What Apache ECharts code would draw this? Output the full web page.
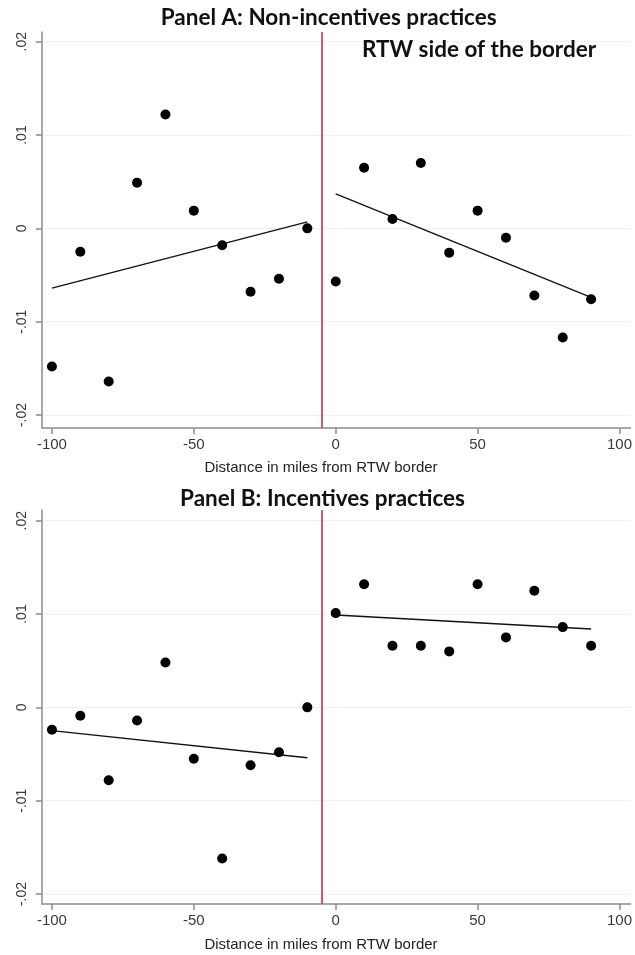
<!DOCTYPE html>
<html><head><meta charset="utf-8">
<script src="https://cdn.jsdelivr.net/npm/echarts@6/dist/echarts.min.js"></script>
<style>html,body{margin:0;padding:0;background:#fff}#c{width:635px;height:955px}</style>
</head><body><div id="c"></div>
<script>
// ---- data ----
const binsLeft = [-100, -90, -80, -70, -60, -50, -40, -30, -20, -10];
const binsRight = [0, 10, 20, 30, 40, 50, 60, 70, 80, 90];
const panelALeft = [-0.0148, -0.0025, -0.0164, 0.0049, 0.0122, 0.0019, -0.0018, -0.0068, -0.0054, 0.0000];
const panelARight = [-0.0057, 0.0065, 0.0010, 0.0070, -0.0026, 0.0019, -0.0010, -0.0072, -0.0117, -0.0076];
const panelBLeft = [-0.0024, -0.0009, -0.0078, -0.0014, 0.0048, -0.0055, -0.0162, -0.0062, -0.0048, 0.0000];
const panelBRight = [0.0101, 0.0132, 0.0066, 0.0066, 0.0060, 0.0132, 0.0075, 0.0125, 0.0086, 0.0066];
const fitXLeft = [-100, -10];
const fitXRight = [0, 90];
const fitALeft = [-0.0064, 0.0007];
const fitARight = [0.0037, -0.0074];
const fitBLeft = [-0.0025, -0.0054];
const fitBRight = [0.0099, 0.0084];
const borderX = -5;
const xTicks = [-100, -50, 0, 50, 100];
const yTicks = [-0.02, -0.01, 0, 0.01, 0.02];
const yTickLabels = ['-.02', '-.01', '0', '.01', '.02'];
const titleA = 'Panel A: Non-incentives practices';
const titleB = 'Panel B: Incentives practices';
const sideNote = 'RTW side of the border';
const xName = 'Distance in miles from RTW border';

const pair = (xs, ys) => xs.map((x, i) => [x, ys[i]]);

const axisLineStyle = { color: '#8c8c8c', width: 1.5 };
function xAxis(gi) {
  return {
    type: 'value', gridIndex: gi, min: -103.5, max: 103.9,
    axisLine: { show: true, onZero: false, lineStyle: axisLineStyle },
    axisTick: { show: true, length: 6, lineStyle: axisLineStyle, customValues: xTicks },
    axisLabel: { customValues: xTicks, fontFamily: 'Liberation Sans', fontSize: 15, color: '#3a3a3a', margin: 9 },
    splitLine: { show: false }
  };
}
function yAxis(gi, mn, mx) {
  return {
    type: 'value', gridIndex: gi, min: mn, max: mx,
    axisLine: { show: true, onZero: false, lineStyle: axisLineStyle },
    axisTick: { show: true, length: 6, lineStyle: axisLineStyle, customValues: yTicks },
    axisLabel: {
      customValues: yTicks, rotate: 90, fontFamily: 'Liberation Sans', fontSize: 14, color: '#3a3a3a', margin: 13,
      formatter: v => { const i = yTicks.findIndex(t => Math.abs(t - v) < 1e-9); return i >= 0 ? yTickLabels[i] : ''; }
    },
    splitLine: { show: true, lineStyle: { color: '#edf2f2', width: 1 } }
  };
}
function dots(gi, xs, ys, withBorder) {
  const s = {
    type: 'scatter', xAxisIndex: gi, yAxisIndex: gi, data: pair(xs, ys),
    symbol: 'circle', symbolSize: 10, itemStyle: { color: '#000', opacity: 1 }, silent: true, z: 5
  };
  if (withBorder) {
    s.markLine = {
      silent: true, symbol: 'none', label: { show: false },
      lineStyle: { color: '#cf2d52', width: 1.6, type: 'solid', opacity: 1 },
      data: [{ xAxis: borderX }]
    };
  }
  return s;
}
function fit(gi, xs, ys) {
  return {
    type: 'line', xAxisIndex: gi, yAxisIndex: gi, data: pair(xs, ys),
    symbol: 'none', lineStyle: { color: '#111', width: 1.3 }, silent: true, z: 4
  };
}
const titleFont = 'bold 22.5px Lato';
const txt = (x, y, text, font, fill) => ({
  type: 'text', x: x, y: y, z: 100, silent: true,
  style: { text: text, font: font, fill: fill, align: 'center', verticalAlign: 'middle' }
});
const chart = echarts.init(document.getElementById('c'), null, { renderer: 'canvas' });
chart.setOption({
  animation: false,
  backgroundColor: '#fff',
  grid: [
    { left: 42, top: 32, width: 590, height: 396 },
    { left: 42, top: 510, width: 590, height: 394 }
  ],
  xAxis: [xAxis(0), xAxis(1)],
  yAxis: [yAxis(0, -0.02139, 0.02104), yAxis(1, -0.02107, 0.02115)],
  graphic: [
    txt(328.7, 18, titleA, titleFont, '#111'),
    txt(479, 50, sideNote, titleFont, '#111'),
    txt(322.5, 499, titleB, titleFont, '#111'),
    txt(321, 468, xName, '15px Liberation Sans', '#222'),
    txt(321, 945, xName, '15px Liberation Sans', '#222')
  ],
  series: [
    dots(0, binsLeft, panelALeft, true), dots(0, binsRight, panelARight, false),
    fit(0, fitXLeft, fitALeft), fit(0, fitXRight, fitARight),
    dots(1, binsLeft, panelBLeft, true), dots(1, binsRight, panelBRight, false),
    fit(1, fitXLeft, fitBLeft), fit(1, fitXRight, fitBRight)
  ]
});
</script></body></html>
